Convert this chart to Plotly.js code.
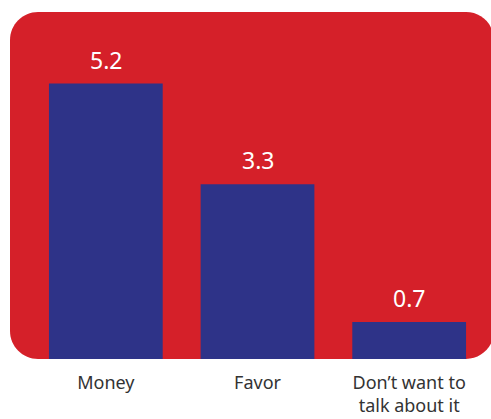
<!DOCTYPE html>
<html>
<head>
<meta charset="utf-8">
<script src="https://cdn.plot.ly/plotly-3.0.1.min.js"></script>
<style>html,body{margin:0;padding:0;background:#fff;}</style>
</head>
<body>
<div id="chart" style="width:491px;height:419px;"></div>
<script>
var categories = ["Money", "Favor", "Don’t want to talk about it"];
var tickLabels = ["Money", "Favor", "Don’t want to<br>talk about it"];
var values = [5.2, 3.3, 0.7];
var valueLabels = ["5.2", "3.3", "0.7"];

var W = 491, H = 419;
var M = {l: 30, r: 6, t: 12, b: 60};
var pw = W - M.l - M.r, ph = H - M.t - M.b;
function px(x) { return (x - M.l) / pw; }
function py(y) { return (H - M.b - y) / ph; }

// rounded rectangle background in pixel coords converted to paper
var rx0 = 10, rx1 = 494, ry0 = 12, ry1 = 359, r = 28, k = 0.5523 * r;
var path = 'M ' + px(rx0 + r) + ',' + py(ry0) +
  ' L ' + px(rx1 - r) + ',' + py(ry0) +
  ' C ' + px(rx1 - r + k) + ',' + py(ry0) + ' ' + px(rx1) + ',' + py(ry0 + r - k) + ' ' + px(rx1) + ',' + py(ry0 + r) +
  ' L ' + px(rx1) + ',' + py(ry1 - r) +
  ' C ' + px(rx1) + ',' + py(ry1 - r + k) + ' ' + px(rx1 - r + k) + ',' + py(ry1) + ' ' + px(rx1 - r) + ',' + py(ry1) +
  ' L ' + px(rx0 + r) + ',' + py(ry1) +
  ' C ' + px(rx0 + r - k) + ',' + py(ry1) + ' ' + px(rx0) + ',' + py(ry1 - r + k) + ' ' + px(rx0) + ',' + py(ry1 - r) +
  ' L ' + px(rx0) + ',' + py(ry0 + r) +
  ' C ' + px(rx0) + ',' + py(ry0 + r - k) + ' ' + px(rx0 + r - k) + ',' + py(ry0) + ' ' + px(rx0 + r) + ',' + py(ry0) + ' Z';

var trace = {
  type: 'bar',
  x: categories,
  y: values,
  marker: {color: '#2e3388', line: {width: 0}},
  hoverinfo: 'none'
};

var annotations = categories.map(function (c, i) {
  return {
    x: c, y: values[i], xref: 'x', yref: 'y',
    text: valueLabels[i], showarrow: false,
    yanchor: 'bottom', yshift: 6,
    font: {family: 'Noto Sans, sans-serif', size: 23, color: '#ffffff'}
  };
});

var layout = {
  width: W, height: H,
  margin: M,
  paper_bgcolor: '#ffffff',
  plot_bgcolor: 'rgba(0,0,0,0)',
  showlegend: false,
  bargap: 0.25,
  shapes: [{
    type: 'path', xref: 'paper', yref: 'paper', layer: 'below',
    path: path, fillcolor: '#d52029', line: {width: 0}
  }],
  annotations: annotations,
  xaxis: {
    tickmode: 'array', tickvals: categories, ticktext: tickLabels,
    showline: false, showgrid: false, zeroline: false, ticks: '',
    ticklabelstandoff: 11,
    tickfont: {family: 'Noto Sans, sans-serif', size: 18, color: '#333333'}
  },
  yaxis: {
    range: [0, 6.55], visible: false, showgrid: false, zeroline: false, fixedrange: true
  }
};

Plotly.newPlot('chart', [trace], layout, {displayModeBar: false, staticPlot: true});
</script>
</body>
</html>
